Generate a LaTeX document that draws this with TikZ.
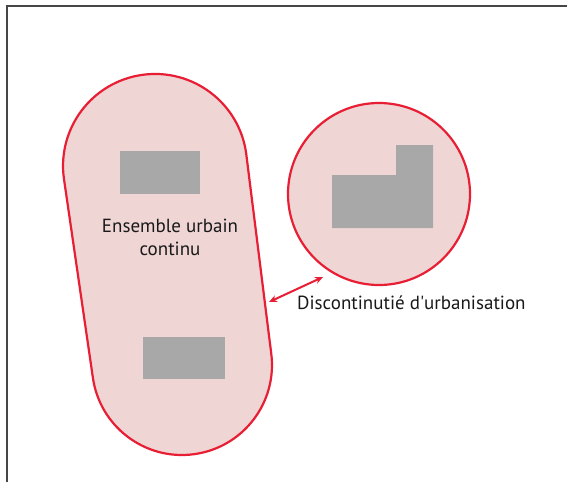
\documentclass[tikz,border=0pt]{standalone}
\usepackage{fontspec}
\setmainfont{PT Sans}
\usetikzlibrary{arrows.meta}
\definecolor{zonefill}{RGB}{240,213,213}
\definecolor{zoneline}{RGB}{232,30,52}
\definecolor{bati}{RGB}{168,168,168}
\definecolor{frameline}{RGB}{70,70,70}
\tikzset{
  zone/.style={fill=zonefill, draw=zoneline, line width=2.2pt},
  batiment/.style={fill=bati, draw=none},
  lbl/.style={font=\fontsize{19}{23}\selectfont, text=black!90, inner sep=0pt, align=center},
  gap/.style={draw=zoneline, line width=2pt, {Stealth[length=8pt,width=7pt]}-{Stealth[length=8pt,width=7pt]}}
}
\begin{document}
\begin{tikzpicture}[x=1pt,y=-1pt]
\useasboundingbox (0,0) rectangle (567,482);
\fill[white] (0,0) rectangle (567,482);
% frame (partially visible)
\draw[frameline, line width=2pt] (7,482) -- (7,6) -- (567,6);
% continuous urban ensemble
\draw[zone] (246.2,153.6) arc[start angle=-7.73, end angle=-187.73, radius=92]
  -- (92.8,377.1) arc[start angle=172.27, end angle=-7.73, radius=90] -- cycle;
\fill[batiment] (120,151) rectangle (200,194);
\fill[batiment] (143,337) rectangle (225,379);
% separate urban zone
\draw[zone] (379,194) circle[radius=91];
\fill[batiment] (332,228) -- (332,175) -- (396,175) -- (396,145) -- (433,145) -- (433,228) -- cycle;
% labels
\node[lbl, anchor=base] (ens) at (170,255) {Ensemble urbain\\continu};
\node[lbl, anchor=base west] (disc) at (297,309) {Discontinutié d\textquotesingle urbanisation};
\coordinate (a1) at (269,302);
\coordinate (a2) at (323,277);
\draw[gap] (a1) -- (a2);
\end{tikzpicture}
\end{document}
